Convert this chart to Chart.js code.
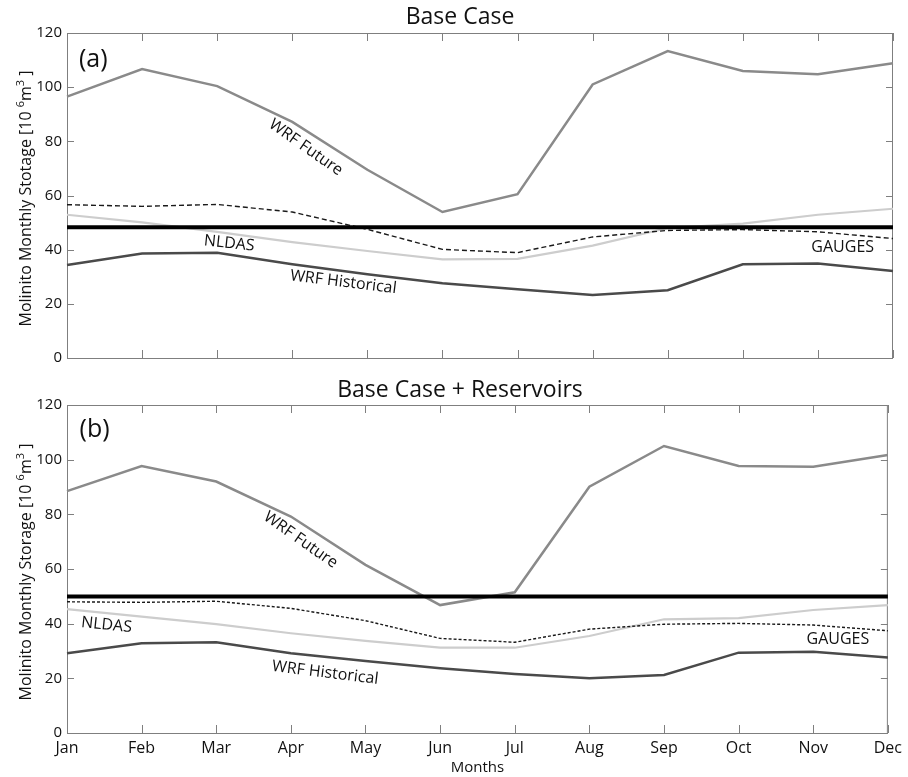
<!DOCTYPE html>
<html>
<head>
<meta charset="utf-8">
<script src="https://cdn.jsdelivr.net/npm/chart.js@4.4.1/dist/chart.umd.min.js"></script>
<style>
  html, body { margin: 0; padding: 0; background: #fff; }
  #wrap { position: relative; width: 908px; height: 777px; }
  canvas { position: absolute; left: 0; }
</style>
</head>
<body>
<div id="wrap">
  <canvas id="chartA" width="908" height="372" style="top:0"></canvas>
  <canvas id="chartB" width="908" height="405" style="top:372px"></canvas>
</div>
<script>
// data (10^6 m3)
const months = ['Jan', 'Feb', 'Mar', 'Apr', 'May', 'Jun', 'Jul', 'Aug', 'Sep', 'Oct', 'Nov', 'Dec'];
const yTicks = [0, 20, 40, 60, 80, 100, 120];

// (a) Base Case
const futureA = [96.5, 106.7, 100.4, 87.2, 69.5, 53.9, 60.5, 101, 113.3, 106, 104.8, 108.8];
const nldasA  = [52.9, 50.1, 46.6, 42.8, 39.5, 36.4, 36.6, 41.5, 48, 49.6, 52.9, 55.1];
const histA   = [34.3, 38.6, 38.9, 34.6, 30.9, 27.6, 25.4, 23.3, 25, 34.6, 34.9, 32.1];
const gaugesA = [56.6, 56, 56.7, 53.9, 47.5, 40.1, 38.9, 44.7, 47.1, 47.4, 46.6, 44.1];
const levelA  = [48.3, 48.3, 48.3, 48.3, 48.3, 48.3, 48.3, 48.3, 48.3, 48.3, 48.3, 48.3];

// (b) Base Case + Reservoirs
const futureB = [88.5, 97.7, 92, 79.2, 61.5, 46.8, 51.5, 90.1, 105, 97.7, 97.4, 101.7];
const nldasB  = [45.3, 42.6, 39.8, 36.5, 33.7, 31.2, 31.2, 35.5, 41.6, 42, 45, 46.8];
const histB   = [29.2, 32.8, 33.2, 29.2, 26.3, 23.7, 21.6, 20, 21.2, 29.4, 29.7, 27.6];
const gaugesB = [48, 47.8, 48.2, 45.6, 41.1, 34.6, 33.2, 38, 39.8, 40.1, 39.5, 37.4];
const levelB  = [49.9, 49.9, 49.9, 49.9, 49.9, 49.9, 49.9, 49.9, 49.9, 49.9, 49.9, 49.9];

const FONT = '"Open Sans", "DejaVu Sans", sans-serif';
const FRAME = '#7f7f7f';

// text notes placed in data units: x = month index, y = storage
const notesA = [
  { text: '(a)', x: 0.35, y: 110, rot: 0, size: 25 },
  { text: 'WRF Future', x: 3.18, y: 77.7, rot: 35, size: 16 },
  { text: 'NLDAS', x: 2.16, y: 42.3, rot: 6, size: 16 },
  { text: 'WRF Historical', x: 3.68, y: 28, rot: 7, size: 16 },
  { text: 'GAUGES', x: 10.33, y: 40.9, rot: 0, size: 16 }
];
const notesB = [
  { text: '(b)', x: 0.37, y: 111, rot: 0, size: 25 },
  { text: 'WRF Future', x: 3.13, y: 70.6, rot: 35, size: 16 },
  { text: 'NLDAS', x: 0.53, y: 39.5, rot: 6, size: 16 },
  { text: 'WRF Historical', x: 3.46, y: 22, rot: 7, size: 16 },
  { text: 'GAUGES', x: 10.33, y: 34.4, rot: 0, size: 16 }
];

// y title with real superscripts: [main text, is superscript]
function drawYTitle(ctx, word, cx, cy) {
  const parts = [[word + ' [10 ', false], ['6', true], ['m', false], ['3', true], [' ]', false]];
  const fontOf = sup => (sup ? '11px ' : '16px ') + FONT;
  let total = 0;
  parts.forEach(([t, sup]) => { ctx.font = fontOf(sup); total += ctx.measureText(t).width; });
  ctx.save();
  ctx.translate(cx, cy);
  ctx.rotate(-Math.PI / 2);
  ctx.textAlign = 'left';
  ctx.textBaseline = 'alphabetic';
  let px = -total / 2;
  parts.forEach(([t, sup]) => {
    ctx.font = fontOf(sup);
    ctx.fillText(t, px, sup ? -1 : 5.5);
    px += ctx.measureText(t).width;
  });
  ctx.restore();
}

// box with inward ticks (matlab style), panel title and notes
const framePlugin = {
  id: 'frame',
  beforeDatasetsDraw(chart, args, opts) {
    const { ctx, chartArea: a, scales: { x, y } } = chart;
    ctx.save();
    ctx.strokeStyle = FRAME;
    ctx.lineWidth = 1;
    ctx.strokeRect(a.left + 0.5, a.top + 0.5, a.right - a.left - 1, a.bottom - a.top);
    ctx.beginPath();
    months.forEach((m, i) => {
      const px = Math.round(x.getPixelForValue(i)) + 0.5;
      ctx.moveTo(px, a.top); ctx.lineTo(px, a.top + 8);
      ctx.moveTo(px, a.bottom); ctx.lineTo(px, a.bottom - 8);
    });
    yTicks.forEach(v => {
      const py = Math.round(y.getPixelForValue(v)) + 0.5;
      ctx.moveTo(a.left, py); ctx.lineTo(a.left + 7, py);
      ctx.moveTo(a.right, py); ctx.lineTo(a.right - 7, py);
    });
    ctx.stroke();
    ctx.restore();
  },
  afterDatasetsDraw(chart, args, opts) {
    const { ctx, chartArea: a, scales: { x, y } } = chart;
    ctx.save();
    ctx.fillStyle = '#111';
    ctx.textAlign = 'center';
    ctx.textBaseline = 'middle';
    ctx.font = '23px ' + FONT;
    ctx.fillText(opts.title, 460, opts.titleY);
    opts.notes.forEach(n => {
      ctx.save();
      ctx.translate(x.getPixelForValue(n.x), y.getPixelForValue(n.y));
      ctx.rotate(n.rot * Math.PI / 180);
      ctx.font = n.size + 'px ' + FONT;
      ctx.fillText(n.text, 0, 0);
      ctx.restore();
    });
    drawYTitle(ctx, opts.yWord, 25, (a.top + a.bottom) / 2 + 3);
    ctx.restore();
  }
};

function makeChart(id, d, panel) {
  const showMonths = panel.showMonths;
  return new Chart(document.getElementById(id), {
    type: 'line',
    data: {
      labels: months,
      datasets: [
        { label: 'level', data: d.level, borderColor: '#000', borderWidth: 4 },
        { label: 'GAUGES', data: d.gauges, borderColor: '#1a1a1a', borderWidth: 1.4, borderDash: panel.dash },
        { label: 'WRF Historical', data: d.hist, borderColor: '#4a4a4a', borderWidth: 2.5 },
        { label: 'WRF Future', data: d.future, borderColor: '#8a8a8a', borderWidth: 2.5 },
        { label: 'NLDAS', data: d.nldas, borderColor: '#cdcdcd', borderWidth: 2.2 }
      ]
    },
    options: {
      responsive: false,
      animation: false,
      devicePixelRatio: 1,
      layout: { padding: { top: 33, right: 15, left: 0, bottom: showMonths ? 0 : 13 } },
      elements: { point: { radius: 0 }, line: { tension: 0 } },
      plugins: {
        legend: { display: false },
        tooltip: { enabled: false },
        frame: { title: panel.title, titleY: panel.titleY, notes: panel.notes, yWord: panel.yWord }
      },
      scales: {
        x: {
          offset: false,
          grid: { display: false, drawTicks: false },
          border: { display: false },
          ticks: {
            display: showMonths, maxRotation: 0, autoSkip: false, padding: 6,
            color: '#111', font: { family: FONT, size: 16 }
          },
          title: {
            display: showMonths, text: 'Months', color: '#111',
            font: { family: FONT, size: 15 }, padding: { top: 0, bottom: 0 }
          },
          afterFit(s) { s.height = showMonths ? 44 : 0; }
        },
        y: {
          min: 0, max: 120,
          grid: { display: false, drawTicks: false },
          border: { display: false },
          ticks: { stepSize: 20, padding: 5, color: '#111', font: { family: FONT, size: 15 } },
          afterFit(s) { s.width = 67; }
        }
      }
    },
    plugins: [framePlugin]
  });
}

makeChart('chartA',
  { level: levelA, gauges: gaugesA, hist: histA, future: futureA, nldas: nldasA },
  { title: 'Base Case', titleY: 17, notes: notesA, dash: [5, 3], showMonths: false,
    yWord: 'Molinito Monthly Stotage' });

makeChart('chartB',
  { level: levelB, gauges: gaugesB, hist: histB, future: futureB, nldas: nldasB },
  { title: 'Base Case + Reservoirs', titleY: 18, notes: notesB, dash: [3, 2], showMonths: true,
    yWord: 'Molinito Monthly Storage' });
</script>
</body>
</html>
